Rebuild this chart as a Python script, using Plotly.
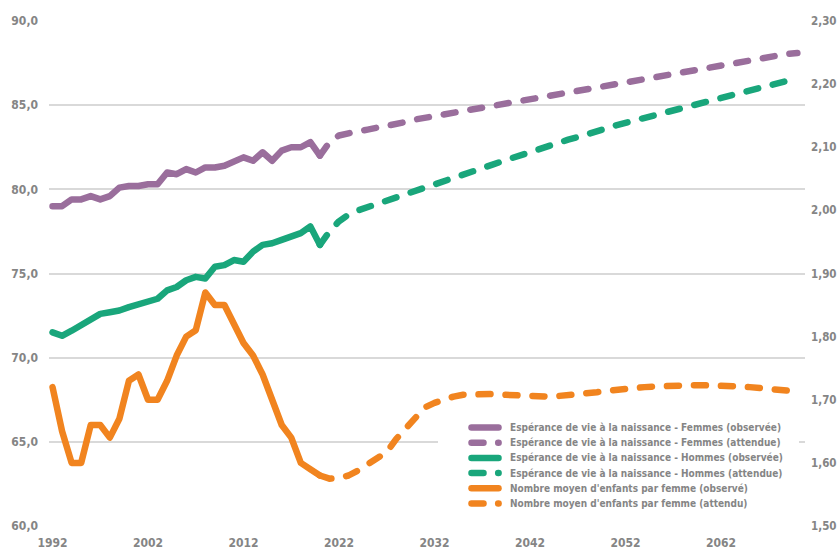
import plotly.graph_objects as go

# ---------------- data ----------------
years_obs = list(range(1992, 2021))
years_proj = list(range(2020, 2071))

women_obs = [79.0, 79.0, 79.4, 79.4, 79.6, 79.4, 79.6, 80.1, 80.2, 80.2,
             80.3, 80.3, 81.0, 80.9, 81.2, 81.0, 81.3, 81.3, 81.4, 81.6,
             81.9, 81.7, 82.2, 81.7, 82.3, 82.5, 82.5, 82.8, 82.0]
men_obs = [71.5, 71.3, 71.6, 71.9, 72.3, 72.6, 72.7, 72.8, 73.0, 73.2,
           73.3, 73.5, 74.0, 74.2, 74.6, 74.8, 74.7, 75.4, 75.5, 75.8,
           75.7, 76.3, 76.7, 76.8, 77.0, 77.2, 77.4, 77.8, 76.7]
fert_obs = [1.72, 1.65, 1.60, 1.60, 1.66, 1.66, 1.64, 1.67, 1.73, 1.74,
            1.70, 1.70, 1.73, 1.77, 1.80, 1.81, 1.87, 1.85, 1.85, 1.82,
            1.79, 1.77, 1.74, 1.70, 1.66, 1.64, 1.60, 1.59, 1.58]

women_proj = [82.0, 82.8, 83.2, 83.35, 83.45, 83.55, 83.65, 83.8, 83.9, 84.0,
              84.15, 84.25, 84.35, 84.45, 84.55, 84.65, 84.75, 84.85, 84.95, 85.05,
              85.2, 85.3, 85.4, 85.5, 85.6, 85.7, 85.8, 85.9, 86.0, 86.1,
              86.2, 86.3, 86.4, 86.5, 86.6, 86.7, 86.8, 86.9, 87.0, 87.1,
              87.2, 87.3, 87.4, 87.5, 87.6, 87.65, 87.75, 87.85, 87.95, 88.05,
              88.1]
men_proj = [76.7, 77.5, 78.1, 78.5, 78.75, 78.95, 79.15, 79.35, 79.55, 79.7,
            79.9, 80.1, 80.3, 80.5, 80.7, 80.9, 81.1, 81.3, 81.45, 81.65,
            81.85, 82.0, 82.2, 82.4, 82.6, 82.75, 82.95, 83.1, 83.3, 83.45,
            83.6, 83.8, 83.95, 84.1, 84.25, 84.45, 84.6, 84.75, 84.9, 85.05,
            85.2, 85.35, 85.5, 85.65, 85.8, 85.95, 86.1, 86.2, 86.35, 86.5,
            86.6]
fert_proj = [1.58, 1.575, 1.576, 1.580, 1.588, 1.598, 1.606, 1.617, 1.638, 1.655,
             1.673, 1.688, 1.695, 1.701, 1.705, 1.708, 1.709, 1.709, 1.709, 1.708,
             1.707, 1.706, 1.705, 1.705, 1.705, 1.706, 1.707, 1.708, 1.710, 1.712,
             1.714, 1.716, 1.718, 1.719, 1.720, 1.721, 1.722, 1.722, 1.723, 1.723,
             1.723, 1.723, 1.722, 1.722, 1.721, 1.720, 1.719, 1.717, 1.716, 1.714,
             1.713]

x_ticks = [1992, 2002, 2012, 2022, 2032, 2042, 2052, 2062]

names = [
    "Espérance de vie à la naissance - Femmes (observée)",
    "Espérance de vie à la naissance - Femmes (attendue)",
    "Espérance de vie à la naissance - Hommes (observée)",
    "Espérance de vie à la naissance - Hommes (attendue)",
    "Nombre moyen d'enfants par femme (observé)",
    "Nombre moyen d'enfants par femme (attendu)",
]

PURPLE = "#9a6e9c"
GREEN = "#19a67b"
ORANGE = "#f1841f"
GREY = "#858585"
FONT = "Liberation Sans Narrow, DejaVu Sans Condensed, Arial Narrow, sans-serif"
DASH = "12px,15px"
LW = 6.5

series = [
    (years_obs, women_obs, names[0], PURPLE, "solid", "y"),
    (years_proj, women_proj, names[1], PURPLE, DASH, "y"),
    (years_obs, men_obs, names[2], GREEN, "solid", "y"),
    (years_proj, men_proj, names[3], GREEN, DASH, "y"),
    (years_obs, fert_obs, names[4], ORANGE, "solid", "y2"),
    (years_proj, fert_proj, names[5], ORANGE, DASH, "y2"),
]

fig = go.Figure()
for xs, ys, nm, col, dash, ax in series:
    fig.add_trace(go.Scatter(
        x=xs, y=ys, name=nm, mode="lines", yaxis=ax,
        line=dict(color=col, width=LW, dash=dash),
        showlegend=False,
    ))

# ---------------- custom legend (paper coordinates) ----------------
W, H = 839, 551
ml, mr, mt, mb = 49, 34, 21, 25
pw, ph = W - ml - mr, H - mt - mb


def px(x):
    return (x - ml) / pw


def py(y):
    return 1 - (y - mt) / ph


shapes = [dict(type="rect", xref="paper", yref="paper", layer="above",
               x0=px(438), x1=px(799), y0=py(416), y1=py(514),
               fillcolor="white", line=dict(width=0))]
annotations = []
row0, step = 427.5, 15.2
for i, (xs, ys, nm, col, dash, ax) in enumerate(series):
    yc = py(row0 + i * step)
    if dash == "solid":
        shapes.append(dict(type="line", xref="paper", yref="paper", layer="above",
                           x0=px(471.5), x1=px(498.5), y0=yc, y1=yc,
                           line=dict(color=col, width=LW)))
    else:
        shapes.append(dict(type="line", xref="paper", yref="paper", layer="above",
                           x0=px(471.5), x1=px(483.5), y0=yc, y1=yc,
                           line=dict(color=col, width=LW)))
        shapes.append(dict(type="line", xref="paper", yref="paper", layer="above",
                           x0=px(498.2), x1=px(498.6), y0=yc, y1=yc,
                           line=dict(color=col, width=LW)))
    annotations.append(dict(xref="paper", yref="paper", x=px(508), y=yc,
                            xanchor="left", yanchor="middle", showarrow=False,
                            text=nm, font=dict(family=FONT, size=10, color=GREY,
                                               weight="bold")))

tickfont = dict(family=FONT, size=12, color=GREY, weight="bold")
tickfont_r = dict(family=FONT, size=11.5, color=GREY, weight="bold")

fig.update_layout(
    width=W, height=H,
    margin=dict(l=ml, r=mr, t=mt, b=mb, pad=0, autoexpand=False),
    paper_bgcolor="white", plot_bgcolor="white",
    separators=", ",
    showlegend=False,
    xaxis=dict(range=[1991.63, 2070.8], tickvals=x_ticks, showgrid=False,
               zeroline=False, showline=False, ticks="", tickfont=tickfont,
               ticklabelstandoff=8, automargin=False),
    yaxis=dict(range=[60, 90], dtick=5, tick0=60, tickformat=".1f",
               showgrid=True, gridcolor="#d9d9d9", gridwidth=1.5,
               zeroline=False, showline=False, ticks="", tickfont=tickfont,
               ticklabelstandoff=10, automargin=False),
    yaxis2=dict(range=[1.5, 2.3], dtick=0.1, tick0=1.5, tickformat=".2f",
                overlaying="y", side="right", showgrid=False, zeroline=False,
                showline=False, ticks="", tickfont=tickfont_r,
                ticklabelstandoff=5, automargin=False),
    shapes=shapes,
    annotations=annotations,
)

post = """
document.documentElement.style.margin = '0';
document.body.style.margin = '0';
document.body.style.padding = '0';
document.body.style.overflow = 'hidden';
var s = document.createElement('style');
s.innerHTML = '.scatterlayer .js-line, .shapelayer path {stroke-linecap: round; stroke-linejoin: round;}';
document.head.appendChild(s);
"""
fig.write_html("out.html", post_script=post, config={"displayModeBar": False})
